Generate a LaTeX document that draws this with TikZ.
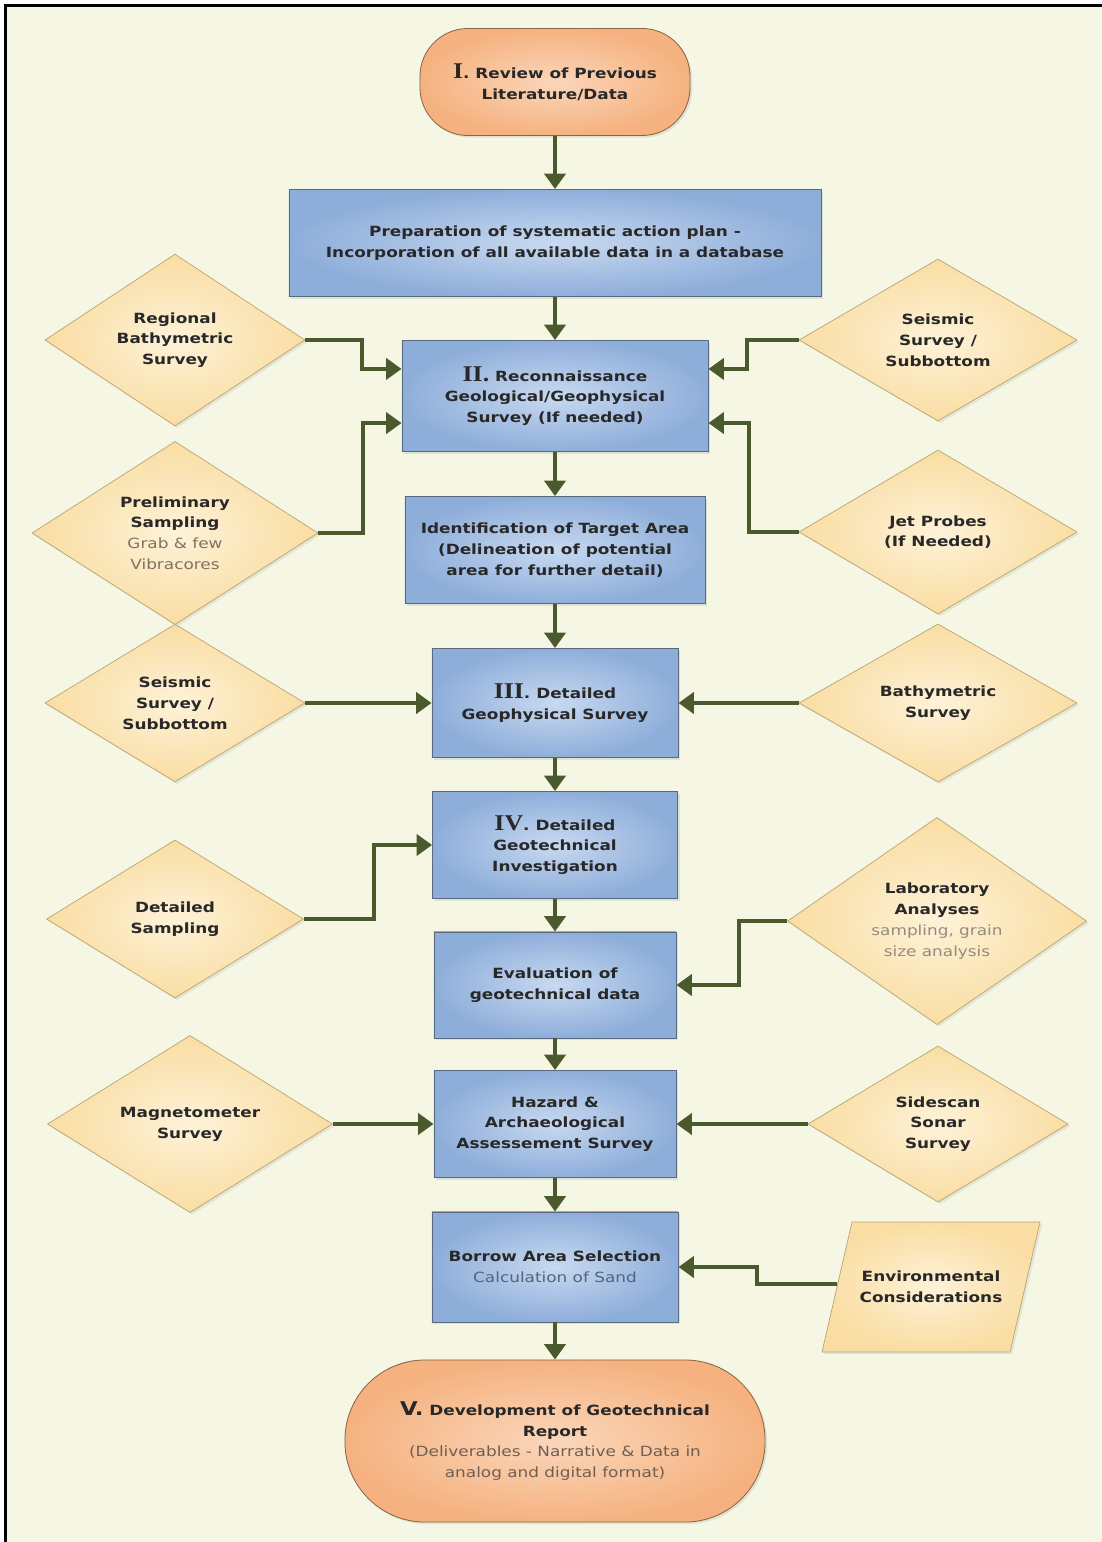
\documentclass[tikz,border=0pt]{standalone}
\usepackage{fontspec}
\setmainfont[FakeStretch=1.2]{DejaVu Sans}
\newfontfamily\romfont[FakeStretch=1.15]{Liberation Serif}
\usetikzlibrary{shapes.geometric, arrows.meta, calc, shadows}

\definecolor{paper}{RGB}{245,247,228}
\definecolor{txt}{RGB}{40,40,40}
\definecolor{bluedark}{RGB}{142,174,218}
\definecolor{bluelight}{RGB}{200,217,240}
\definecolor{boxline}{RGB}{90,105,130}
\definecolor{tanfill}{RGB}{250,221,162}
\definecolor{tanlight}{RGB}{253,242,216}
\definecolor{tanline}{RGB}{185,165,115}
\definecolor{peach}{RGB}{245,178,128}
\definecolor{peachlight}{RGB}{251,214,186}
\definecolor{peachline}{RGB}{140,100,70}
\definecolor{flowgreen}{RGB}{74,90,44}
\definecolor{subgray}{RGB}{125,115,95}
\definecolor{sublight}{RGB}{150,140,122}
\definecolor{subblue}{RGB}{85,100,125}
\definecolor{subbrown}{RGB}{110,95,85}

\newcommand{\boxfont}{\fontsize{10}{14.8}\selectfont\bfseries}
\newcommand{\stnum}[1]{{\romfont\fontsize{16}{14.8}\selectfont\bfseries #1}}
\newcommand{\bignum}[1]{{\fontsize{13.5}{14.8}\selectfont\bfseries #1}}
\newcommand{\subtxt}[2][subgray]{{\mdseries\color{#1}#2}}

\tikzset{
  stage/.style={rectangle, draw=boxline, line width=0.6pt, shading=radial,
    inner color=bluelight, outer color=bluedark, align=center, text=txt,
    font=\boxfont, inner sep=2pt,
    drop shadow={shadow xshift=1.5pt, shadow yshift=-1.5pt, opacity=0.18}},
  input/.style={diamond, draw=tanline, line width=0.5pt, shading=radial,
    inner color=tanlight, outer color=tanfill, align=center, text=txt,
    font=\boxfont, inner sep=0pt,
    drop shadow={shadow xshift=1.5pt, shadow yshift=-1.5pt, opacity=0.15}},
  term/.style={rectangle, draw=peachline, line width=0.6pt, shading=radial,
    inner color=peachlight, outer color=peach, align=center, text=txt,
    font=\boxfont, inner sep=2pt,
    drop shadow={shadow xshift=1.5pt, shadow yshift=-1.5pt, opacity=0.18}},
  flow/.style={draw=flowgreen, line width=2.8pt, -{Triangle[length=11pt,width=15pt]}},
}

\begin{document}
\begin{tikzpicture}[x=0.025cm, y=-0.025cm]
  % paper and frame
  \useasboundingbox (0,0) rectangle (1102,1542);
  \fill[white] (0,0) rectangle (1102,1542);
  \fill[paper] (5.5,5.5) rectangle (1102,1542);
  \draw[black, line width=0.075cm] (5.5,1542) -- (5.5,5.5) -- (1102,5.5);

  % main column
  \node[term, minimum width=6.75cm, minimum height=2.675cm, rounded corners=1.2cm] (review) at (555,82)
    {\stnum{I}. Review of Previous\\Literature/Data};
  \node[stage, minimum width=13.3cm, minimum height=2.675cm] (plan) at (555,243)
    {Preparation of systematic action plan -\\Incorporation of all available data in a database};
  \node[stage, minimum width=7.65cm, minimum height=2.775cm] (recon) at (555,396)
    {\stnum{II.} Reconnaissance\\Geological/Geophysical\\Survey (If needed)};
  \node[stage, minimum width=7.5cm, minimum height=2.675cm] (target) at (555,550)
    {Identification of Target Area\\(Delineation of potential\\area for further detail)};
  \node[stage, minimum width=6.15cm, minimum height=2.725cm] (geophys) at (555,703)
    {\stnum{III}. Detailed\\Geophysical Survey};
  \node[stage, minimum width=6.125cm, minimum height=2.675cm] (geotech) at (555,845)
    {\stnum{IV}. Detailed\\Geotechnical\\Investigation};
  \node[stage, minimum width=6.05cm, minimum height=2.65cm] (evalgeo) at (555,985)
    {Evaluation of\\geotechnical data};
  \node[stage, minimum width=6.05cm, minimum height=2.675cm] (hazard) at (555,1124)
    {Hazard \&\\Archaeological\\Assessement Survey};
  \node[stage, minimum width=6.15cm, minimum height=2.75cm] (borrow) at (555,1267)
    {Borrow Area Selection\\\subtxt[subblue]{Calculation of Sand}};
  \node[term, minimum width=10.5cm, minimum height=4.05cm, rounded corners=2cm] (report) at (555,1441)
    {\bignum{V.} Development of Geotechnical\\Report\\\subtxt[subbrown]{(Deliverables - Narrative \& Data in}\\\subtxt[subbrown]{analog and digital format)}};

  % side inputs
  \node[input, minimum width=6.5cm, minimum height=3.9cm] (regbathy) at (175,340)
    {Regional\\Bathymetric\\Survey};
  \node[input, minimum width=6.95cm, minimum height=4.05cm] (seisrecon) at (938,340)
    {Seismic\\Survey /\\Subbottom};
  \node[input, minimum width=7.15cm, minimum height=3.925cm] (prelim) at (175,533)
    {Preliminary\\Sampling\\\subtxt{Grab \& few}\\\subtxt{Vibracores}};
  \node[input, minimum width=6.95cm, minimum height=4.1cm] (jetprobe) at (938,532)
    {Jet Probes\\(If Needed)};
  \node[input, minimum width=6.5cm, minimum height=3.825cm] (seisdet) at (175,703)
    {Seismic\\Survey /\\Subbottom};
  \node[input, minimum width=6.95cm, minimum height=3.95cm] (bathy) at (938,703)
    {Bathymetric\\Survey};
  \node[input, minimum width=6.425cm, minimum height=3.95cm] (detsamp) at (175,919)
    {Detailed\\Sampling};
  \node[input, minimum width=7.475cm, minimum height=4.325cm] (lab) at (937,921)
    {Laboratory\\Analyses\\\subtxt[sublight]{sampling, grain}\\\subtxt[sublight]{size analysis}};
  \node[input, minimum width=7.125cm, minimum height=4.425cm] (magneto) at (190,1124)
    {Magnetometer\\Survey};
  \node[input, minimum width=6.5cm, minimum height=3.9cm] (sidescan) at (938,1124)
    {Sidescan\\Sonar\\Survey};

  % environmental parallelogram
  \path[draw=tanline, line width=0.5pt, shading=radial, inner color=tanlight, outer color=tanfill,
    drop shadow={shadow xshift=1.5pt, shadow yshift=-1.5pt, opacity=0.15}]
    (822,1352) -- (852,1222) -- (1040,1222) -- (1010,1352) -- cycle;
  \node[align=center, text=txt, font=\boxfont] (environ) at (931,1287)
    {Environmental\\Considerations};
  \coordinate (envleft) at (837,1284);

  % connectors
  \draw[flow] (review) -- (plan);
  \draw[flow] (plan) -- (recon);
  \draw[flow] (regbathy.east) -- ++(57,0) |- (recon.170);
  \draw[flow] (seisrecon.west) -- ++(-52,0) |- (recon.10);
  \draw[flow] (prelim.east) -- ++(45,0) |- (recon.190);
  \draw[flow] (jetprobe.west) -- ++(-50,0) |- (recon.350);
  \draw[flow] (recon) -- (target);
  \draw[flow] (target) -- (geophys);
  \draw[flow] (seisdet) -- (geophys);
  \draw[flow] (bathy) -- (geophys);
  \draw[flow] (geophys) -- (geotech);
  \draw[flow] (detsamp.east) -- ++(70,0) |- (geotech.west);
  \draw[flow] (geotech) -- (evalgeo);
  \draw[flow] (lab.west) -- ++(-48,0) |- (evalgeo.east);
  \draw[flow] (evalgeo) -- (hazard);
  \draw[flow] (magneto) -- (hazard);
  \draw[flow] (sidescan) -- (hazard);
  \draw[flow] (hazard) -- (borrow);
  \draw[flow] (envleft) -- ++(-80,0) |- (borrow.east);
  \draw[flow] (borrow) -- (report);
\end{tikzpicture}
\end{document}
